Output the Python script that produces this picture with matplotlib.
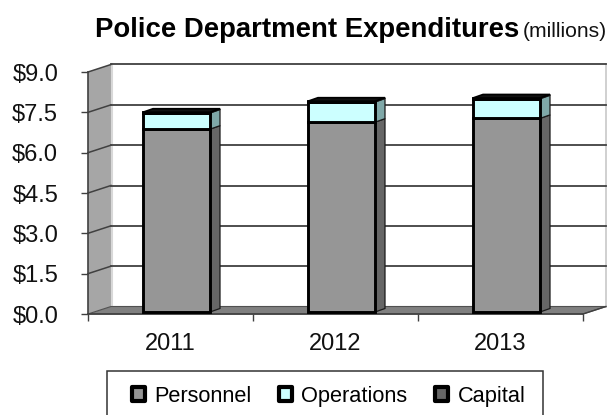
import matplotlib
matplotlib.use('Agg')
import matplotlib.pyplot as plt
import numpy as np
from matplotlib.patches import Rectangle
from matplotlib.transforms import Affine2D

plt.rcParams['font.family'] = ['Liberation Sans', 'DejaVu Sans']

years = ['2011', '2012', '2013']
personnel = [6.80, 7.06, 7.20]
operations = [0.60, 0.75, 0.73]
capital = [0.03, 0.03, 0.03]
y_ticks = [0, 1.5, 3, 4.5, 6, 7.5, 9]
y_labels = ['$0.0', '$1.5', '$3.0', '$4.5', '$6.0', '$7.5', '$9.0']

W, H = 610, 415
L, R, T, B = 88, 583, 72, 314   # front plane, in pixels
WALL_DX, WALL_DY = 23, 7.5      # depth of the box


def main():
    fig = plt.figure(figsize=(W / 100, H / 100), dpi=100)
    ax = fig.add_axes([L / W, 1 - B / H, (R - L) / W, (B - T) / H])
    ax.set_xlim(0, 3)
    ax.set_ylim(0, 9)
    px_x = 3 / (R - L)
    px_y = 9 / (B - T)

    def shifted(dx, dy):
        return ax.transData + Affine2D().translate(dx, dy)

    back = shifted(WALL_DX, WALL_DY)
    wx, wy = WALL_DX * px_x, WALL_DY * px_y

    # walls and floor
    ax.plot([3 + wx] * 2, [wy, 9 + wy], color='#c8c8c8', lw=1.2, clip_on=False, zorder=1)
    ax.fill([0, wx, wx, 0], [0, wy, 9 + wy, 9], fc='#a6a6a6', ec='none', clip_on=False, zorder=1)
    ax.plot([wx + 0.006] * 2, [wy, 9 + wy], color='#d8d8d8', lw=1.5, clip_on=False, zorder=1)
    ax.fill([0, 3, 3 + wx, wx], [0, 0, wy, wy], fc='#808080', ec='#505050', lw=0.8,
            clip_on=False, zorder=1)

    # gridlines on the back wall, running down the left wall to the ticks
    for v in y_ticks[1:]:
        ax.plot([0, 3], [v, v], transform=back, color='#404040', lw=1.3, clip_on=False, zorder=2)
        ax.plot([0, wx], [v, v + wy], color='#404040', lw=1.1, clip_on=False, zorder=2)
    ax.plot([3, 3 + wx], [0, wy], color='#404040', lw=1.0, clip_on=False, zorder=2)

    # bars
    x = np.arange(len(years)) + 0.5
    width = 0.406
    front = shifted(6, 2)
    depth_x, depth_y = 10 * px_x, 3.5 * px_y
    p = np.array(personnel)
    o = np.array(operations)
    c = np.array(capital)
    series = [
        ('Personnel', p, np.zeros(3), '#969696', '#666666'),
        ('Operations', o, p, '#ccffff', '#7fa8a8'),
        ('Capital', c, p + o, '#666666', '#333333'),
    ]
    handles = []
    for label, vals, base, col, side in series:
        bars = ax.bar(x, vals, width, bottom=base, color=col, edgecolor='black', lw=2.1,
                      label=label, transform=front, clip_on=False, zorder=4)
        handles.append(bars)
        for xi, v, b in zip(x, vals, base):
            xr = xi + width / 2
            ax.fill([xr, xr + depth_x, xr + depth_x, xr],
                    [b, b + depth_y, b + v + depth_y, b + v],
                    fc=side, ec='#1a1a1a', lw=0.9, transform=front, clip_on=False, zorder=3)
    tops = p + o + c
    for xi, top in zip(x, tops):
        xl, xr = xi - width / 2, xi + width / 2
        ax.fill([xl, xr, xr + depth_x, xl + depth_x],
                [top, top, top + depth_y, top + depth_y],
                fc='#111111', ec='black', lw=1.2, transform=front, clip_on=False, zorder=5)

    # axes
    for s in ('top', 'right'):
        ax.spines[s].set_visible(False)
    ax.patch.set_visible(False)
    for s in ('left', 'bottom'):
        ax.spines[s].set_color('#404040')
        ax.spines[s].set_linewidth(1.2)
        ax.spines[s].set_zorder(2.5)
    ax.set_yticks(y_ticks)
    ax.set_yticklabels(y_labels, fontsize=17, color='#111111')
    ax.set_xticks([0, 1, 2, 3])
    ax.set_xticklabels([])
    ax.set_xticks(x, years, minor=True, fontsize=17, color='#111111')
    ax.tick_params(axis='x', which='minor', length=0, pad=14)
    ax.tick_params(axis='x', which='major', length=5, width=1, color='#404040')
    ax.tick_params(axis='y', length=5, width=1, color='#404040', pad=16.5)

    # title is two runs: bold name plus small units
    fig.text(95 / W, 1 - 37 / H, 'Police Department Expenditures', fontsize=19.8,
             fontweight='bold', color='black', va='baseline')
    fig.text(523 / W, 1 - 37 / H, '(millions)', fontsize=15.2, color='#111111', va='baseline')

    # legend box runs off the bottom of the picture
    fig.add_artist(Rectangle((107 / W, -0.05), 436 / W, 1 - 370.5 / H + 0.05,
                             transform=fig.transFigure, fc='white', ec='#333333', lw=1.1))
    leg = fig.legend(handles, ['Personnel', 'Operations', 'Capital'], ncol=3,
                     loc='center', bbox_to_anchor=(328.5 / W, 1 - 396 / H),
                     fontsize=15.7, frameon=False,
                     handlelength=0.62, handleheight=0.62, handletextpad=0.42,
                     columnspacing=1.25, borderpad=0, borderaxespad=0)
    for h in leg.legend_handles:
        h.set_linewidth(3)
        h.set_joinstyle('round')

    fig.savefig('out.png', dpi=100)


if __name__ == "__main__":
    main()
